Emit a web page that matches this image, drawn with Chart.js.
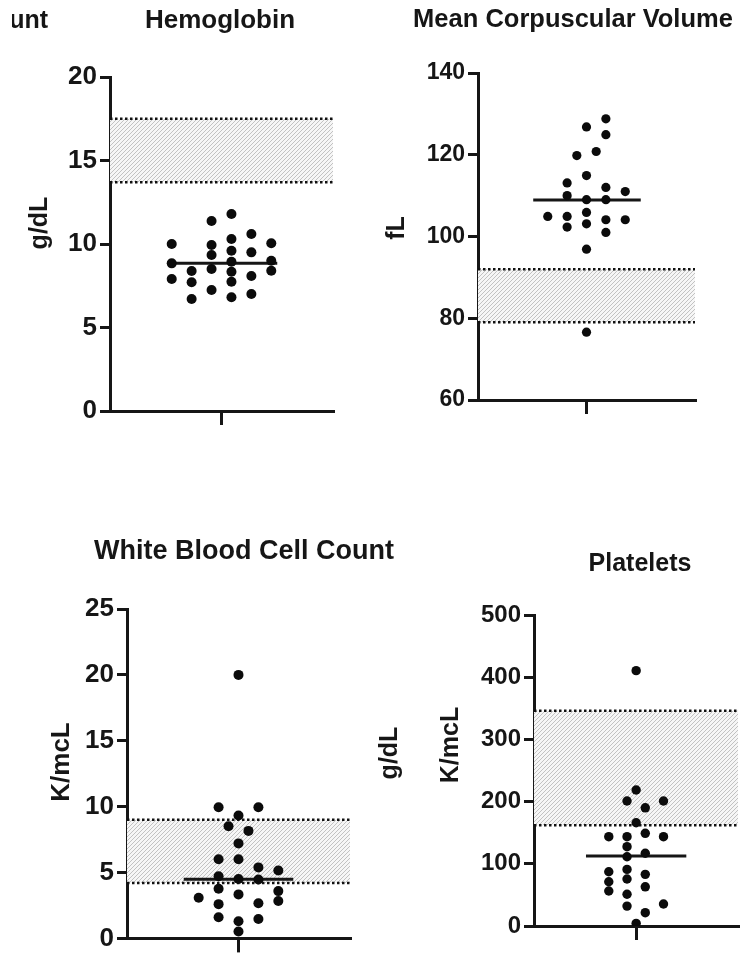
<!DOCTYPE html>
<html>
<head>
<meta charset="utf-8">
<title>Hematology panel</title>
<script src="https://cdn.jsdelivr.net/npm/chart.js@4.4.1/dist/chart.umd.min.js"></script>
<style>
  html, body { margin: 0; padding: 0; background: #fff; }
  #page { position: relative; width: 743px; height: 957px; overflow: hidden; background: #fff; }
  #page canvas { position: absolute; left: 0; top: 0; }
</style>
</head>
<body>
<div id="page">
  <canvas id="hgb" width="743" height="957"></canvas>
  <canvas id="mcv" width="743" height="957"></canvas>
  <canvas id="wbc" width="743" height="957"></canvas>
  <canvas id="plt" width="743" height="957"></canvas>
</div>
<script>
// Hemoglobin, g/dL (column = swarm slot, value = measurement)
const hgbColumn = [-5, -5, -5, -3, -3, -3, -1, -1, -1, -1, -1, 1, 1, 1, 1, 1, 1, 1, 3, 3, 3, 3, 5, 5, 5];
const hgbValue = [10.0, 8.84, 7.9, 8.38, 7.71, 6.71, 11.38, 9.94, 9.34, 8.5, 7.25,
  11.8, 10.3, 9.6, 8.94, 8.34, 7.74, 6.81, 10.6, 9.5, 8.08, 7.01, 10.04, 9.0, 8.4];
const hgbNormal = [13.7, 17.5];
const hgbMedian = 8.84;
const hgbTicks = [0, 5, 10, 15, 20];

// Mean corpuscular volume, fL
const mcvColumn = [-4, -2, -2, -2, -2, -1, 0, 0, 0, 0, 0, 0, 0, 1, 2, 2, 2, 2, 2, 2, 4, 4];
const mcvValue = [104.9, 113.1, 110.0, 104.9, 102.3, 119.8, 126.8, 114.9, 109.0, 105.9, 103.1, 96.9, 76.6,
  120.8, 128.8, 124.9, 112.0, 109.0, 104.1, 101.0, 111.0, 104.1];
const mcvNormal = [79, 92];
const mcvMedian = 108.9;
const mcvTicks = [60, 80, 100, 120, 140];

// White blood cell count, K/mcL
const wbcColumn = [-4, -2, -2, -2, -2, -2, -2, -1, 0, 0, 0, 0, 0, 0, 0, 0, 1, 2, 2, 2, 2, 2, 4, 4, 4];
const wbcValue = [3.09, 9.96, 6.01, 4.72, 3.77, 2.6, 1.6, 8.51, 20.0, 9.33, 7.21, 6.01, 4.51, 3.34, 1.3, 0.52,
  8.16, 9.96, 5.39, 4.47, 2.67, 1.47, 5.16, 3.59, 2.84];
const wbcNormal = [4.2, 9.0];
const wbcMedian = 4.49;
const wbcTicks = [0, 5, 10, 15, 20, 25];

// Platelets, K/mcL
const pltColumn = [-3, -3, -3, -3, -1, -1, -1, -1, -1, -1, -1, -1, 0, 0, 0, 0, 1, 1, 1, 1, 1, 1, 3, 3, 3];
const pltValue = [143.6, 87.3, 71.2, 56.3, 201, 143.6, 127.5, 111.4, 91, 75.6, 51, 32, 410.5, 218.6, 166, 4.3,
  190, 149, 117, 83, 63, 21.4, 201, 143.6, 35.4];
const pltNormal = [162, 346];
const pltMedian = 112.5;
const pltTicks = [0, 100, 200, 300, 400, 500];

const INK = '#161616';
const FONT = "'Liberation Sans', Arial, Helvetica, sans-serif";
const X_HALF = 11.2;
const Y_AXIS_W = 70;
const X_AXIS_H = 20;
const PAGE_W = 743;
const PAGE_H = 957;

// diagonal hatch used for the reference range
function hatchFill() {
  const c = document.createElement('canvas');
  c.width = 4;
  c.height = 4;
  const g = c.getContext('2d');
  g.fillStyle = '#f6f6f6';
  g.fillRect(0, 0, 4, 4);
  g.strokeStyle = '#c2c2c2';
  g.lineWidth = 1;
  g.beginPath();
  g.moveTo(0, 4); g.lineTo(4, 0);
  g.moveTo(-1, 1); g.lineTo(1, -1);
  g.moveTo(3, 5); g.lineTo(5, 3);
  g.stroke();
  return g.createPattern(c, 'repeat');
}

// titles and axis names, placed in canvas pixels
const panelText = {
  id: 'panelText',
  afterDraw(chart, args, opts) {
    const ctx = chart.ctx;
    for (const t of opts.items || []) {
      ctx.save();
      if (t.clipLeft != null) {
        ctx.beginPath();
        ctx.rect(t.clipLeft, 0, chart.width, chart.height);
        ctx.clip();
      }
      ctx.font = `bold ${t.size}px ${FONT}`;
      ctx.fillStyle = INK;
      ctx.translate(t.x, t.y);
      if (t.rotate) ctx.rotate(-Math.PI / 2);
      ctx.textAlign = t.align || 'center';
      ctx.textBaseline = t.rotate ? 'middle' : 'alphabetic';
      ctx.fillText(t.text, 0, 0);
      ctx.restore();
    }
  }
};

function rangeLine(y) {
  return [{ x: -X_HALF, y }, { x: X_HALF, y }];
}

function drawPanel(id, p) {
  const [left, top, right, bottom] = p.area;
  const ticks = p.ticks;
  return new Chart(document.getElementById(id), {
    type: 'scatter',
    data: {
      datasets: [
        {
          data: p.column.map((c, i) => ({ x: c, y: p.value[i] })),
          pointRadius: p.dot,
          pointBackgroundColor: '#0b0b0b',
          pointBorderWidth: 0,
          order: 0,
        },
        {
          type: 'line',
          data: [{ x: p.span[0], y: p.median }, { x: p.span[1], y: p.median }],
          borderColor: INK,
          borderWidth: 3,
          pointRadius: 0,
          fill: false,
          order: 1,
        },
        {
          type: 'line',
          data: rangeLine(p.normal[1]),
          borderColor: '#111',
          borderWidth: 2.5,
          borderDash: [2.5, 2.5],
          pointRadius: 0,
          fill: false,
          order: 2,
        },
        {
          type: 'line',
          data: rangeLine(p.normal[0]),
          borderColor: '#111',
          borderWidth: 2.5,
          borderDash: [2.5, 2.5],
          pointRadius: 0,
          fill: '-1',
          backgroundColor: hatchFill(),
          order: 3,
        },
      ],
    },
    options: {
      responsive: false,
      animation: false,
      devicePixelRatio: 1,
      layout: {
        padding: {
          left: left - Y_AXIS_W,
          top: top,
          right: PAGE_W - right,
          bottom: PAGE_H - bottom - X_AXIS_H,
        },
      },
      plugins: {
        legend: { display: false },
        tooltip: { enabled: false },
        panelText: { items: p.text },
      },
      scales: {
        x: {
          type: 'linear',
          min: -X_HALF,
          max: X_HALF,
          afterBuildTicks: (s) => { s.ticks = [{ value: 0 }]; },
          afterFit: (s) => { s.height = X_AXIS_H; },
          ticks: { display: false },
          grid: { drawOnChartArea: false, tickLength: 14, lineWidth: 3, color: INK },
          border: { display: true, width: 3, color: INK },
        },
        y: {
          type: 'linear',
          min: ticks[0],
          max: ticks[ticks.length - 1],
          afterBuildTicks: (s) => { s.ticks = ticks.map((v) => ({ value: v })); },
          afterFit: (s) => { s.width = Y_AXIS_W; },
          ticks: {
            font: { family: FONT, size: p.tickSize, weight: 'bold' },
            color: INK,
            padding: 3,
          },
          grid: { drawOnChartArea: false, tickLength: 10, lineWidth: 3, color: INK },
          border: { display: true, width: 3, color: INK },
        },
      },
    },
    plugins: [panelText],
  });
}

drawPanel('hgb', {
  column: hgbColumn, value: hgbValue, normal: hgbNormal, median: hgbMedian, ticks: hgbTicks,
  area: [110, 77, 333, 411], span: [-4.7, 5.6], dot: 5, tickSize: 26,
  text: [
    { text: 'Hemoglobin', x: 220, y: 28, size: 26 },
    { text: 'g/dL', x: 40, y: 223, size: 25, rotate: true },
    { text: 'Count', x: 48, y: 28, size: 25, align: 'right', clipLeft: 12 },
  ],
});

drawPanel('mcv', {
  column: mcvColumn, value: mcvValue, normal: mcvNormal, median: mcvMedian, ticks: mcvTicks,
  area: [478, 73, 695, 400], span: [-5.5, 5.6], dot: 4.6, tickSize: 23,
  text: [
    { text: 'Mean Corpuscular Volume', x: 573, y: 27, size: 25.5 },
    { text: 'fL', x: 397, y: 228, size: 25, rotate: true },
  ],
});

drawPanel('wbc', {
  column: wbcColumn, value: wbcValue, normal: wbcNormal, median: wbcMedian, ticks: wbcTicks,
  area: [127, 609, 350, 943], span: [-5.5, 5.5], dot: 5, tickSize: 26,
  text: [
    { text: 'White Blood Cell Count', x: 244, y: 559, size: 27 },
    { text: 'K/mcL', x: 62, y: 762, size: 26, rotate: true },
  ],
});

drawPanel('plt', {
  column: pltColumn, value: pltValue, normal: pltNormal, median: pltMedian, ticks: pltTicks,
  area: [534, 615, 742, 926], span: [-5.5, 5.5], dot: 4.7, tickSize: 24,
  text: [
    { text: 'Platelets', x: 640, y: 571, size: 25 },
    { text: 'K/mcL', x: 451, y: 745, size: 25, rotate: true },
    { text: 'g/dL', x: 390, y: 753, size: 25, rotate: true },
  ],
});
</script>
</body>
</html>
